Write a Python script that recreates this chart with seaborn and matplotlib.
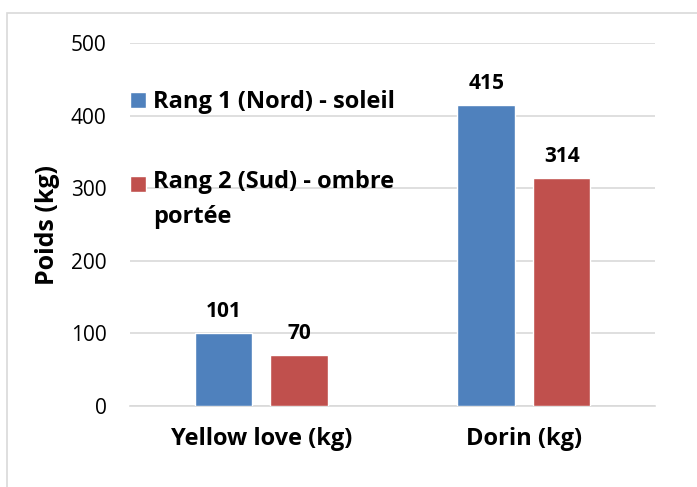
import matplotlib
matplotlib.use("Agg")
import matplotlib.pyplot as plt
import pandas as pd
import seaborn as sns
from matplotlib.legend_handler import HandlerPatch
from matplotlib.patches import Rectangle

categories = ["Yellow love (kg)", "Dorin (kg)"]
series = ["Rang 1 (Nord) - soleil", "Rang 2 (Sud) - ombre\nportée"]
rang1 = [101, 415]
rang2 = [70, 314]
colors = ["#4F81BD", "#C0504D"]

df = pd.DataFrame({
    "cat": categories * 2,
    "serie": [series[0]] * 2 + [series[1]] * 2,
    "poids": rang1 + rang2,
})

sns.set_theme(style="white")
plt.rcParams["font.family"] = ["Open Sans", "DejaVu Sans"]
plt.rcParams["text.color"] = "#000000"


def square(shift):
    # legend square, lifted to sit on the first line of a wrapped label
    def f(legend, orig_handle, xdescent, ydescent, width, height, fontsize):
        return Rectangle((-xdescent, -ydescent + shift), width, height)
    return f


fig = plt.figure(figsize=(6.97, 4.87), dpi=100)
ax = fig.add_axes([0.1865, 0.1663, 0.7535, 0.7454])

sns.barplot(data=df, x="cat", y="poids", hue="serie", order=categories,
            hue_order=series, palette=colors, width=0.575, gap=0.24,
            saturation=1, ax=ax, zorder=3)

for cont in ax.containers:
    ax.bar_label(cont, fmt="%d", padding=8, fontsize=15, fontweight="bold",
                 color="#000000")

ax.set_ylim(0, 500)
ax.set_yticks(range(0, 501, 100))
ax.set_xlim(-0.5, 1.5)
ax.yaxis.grid(True, color="#D9D9D9", linewidth=1.2, zorder=0)
for s in ["top", "right", "left"]:
    ax.spines[s].set_visible(False)
ax.spines["bottom"].set_color("#D9D9D9")
ax.spines["bottom"].set_linewidth(1.2)
ax.tick_params(axis="y", length=0, pad=17, labelsize=15, labelcolor="#000000")
ax.tick_params(axis="x", length=0, pad=15, labelsize=17, labelcolor="#000000")
for lbl in ax.get_xticklabels():
    lbl.set_fontweight("bold")
ax.set_xlabel("")
ax.set_ylabel("Poids (kg)", fontsize=18, fontweight="bold", labelpad=8,
              color="#000000")

handles, labels = ax.get_legend_handles_labels()
leg = ax.legend(handles, labels, loc="upper left",
                bbox_to_anchor=(0.0, 0.87), frameon=False,
                prop={"weight": "bold", "size": 17}, handlelength=0.68,
                handleheight=0.68, handletextpad=0.3, labelspacing=2.35,
                borderaxespad=0, borderpad=0,
                handler_map={handles[1]: HandlerPatch(patch_func=square(11.7))})
leg.get_texts()[1].set_linespacing(1.62)
for t in leg.get_texts():
    t.set_color("#000000")

fig.patches.append(Rectangle((7 / 697, -0.1), 1.2, 1.1 - 13 / 487,
                             transform=fig.transFigure, fill=False,
                             edgecolor="#D9D9D9", linewidth=1.2))

fig.savefig("out.png", dpi=100)
